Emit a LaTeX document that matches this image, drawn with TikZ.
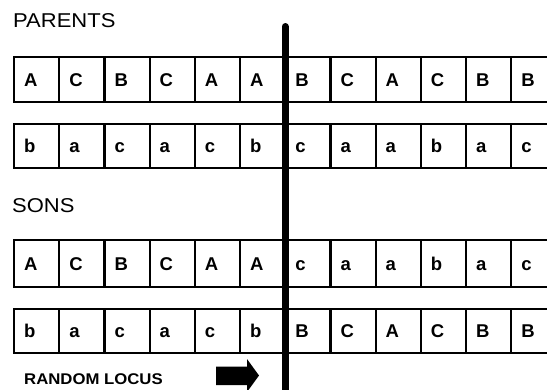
\documentclass[tikz,border=0pt]{standalone}
\usepackage{fontspec}
\usepackage{graphicx}
\setmainfont{Liberation Sans}
\begin{document}
\begin{tikzpicture}[x=1pt,y=-1pt,
  cell/.style={draw=black, line width=2.2pt, anchor=north west, minimum width=45.2pt,
    text width=25.2pt, inner xsep=10pt, inner ysep=0pt, align=left,
    text height=13.5pt, text depth=0pt,
    font=\fontsize{18.5}{19}\selectfont\bfseries},
  heading/.style={anchor=base west, inner sep=0pt, font=\fontsize{20}{21}\selectfont},
  locus/.style={anchor=base west, inner sep=0pt, font=\fontsize{15.5}{16}\selectfont\bfseries}]
\clip (0,0) rectangle (547,389);
\fill[white] (0,0) rectangle (547,389);
% rows
\foreach \t [count=\i from 0] in {A,C,B,C,A,A,B,C,A,C,B,B}
  \node[cell, minimum height=45pt] (ra\i) at (13+45.2*\i,56) {\t};
\foreach \t [count=\i from 0] in {b,a,c,a,c,b,c,a,a,b,a,c}
  \node[cell, minimum height=44pt] (rb\i) at (13+45.2*\i,123) {\t};
\foreach \t [count=\i from 0] in {A,C,B,C,A,A,c,a,a,b,a,c}
  \node[cell, minimum height=47pt] (rc\i) at (13+45.2*\i,239) {\t};
\foreach \t [count=\i from 0] in {b,a,c,a,c,b,B,C,A,C,B,B}
  \node[cell, minimum height=44pt] (rd\i) at (13+45.2*\i,308) {\t};
% labels
\node[heading] (parents) at (13,27) {\scalebox{1.1}[1]{PARENTS}};
\node[heading] (sons) at (12,212) {\scalebox{1.1}[1]{SONS}};
\node[locus] (locus) at (24,384) {\scalebox{1.08}[1]{RANDOM LOCUS}};
% crossover line
\coordinate (cuttop) at (285,26.5);
\coordinate (cutbot) at (285,400);
\draw[line width=7pt, line cap=round] (cuttop) -- (cutbot);
% arrow
\fill[black] (216,366.5) -- (247,366.5) -- (247,359) -- (259,375.5) -- (247,392) -- (247,385) -- (216,385) -- cycle;
\end{tikzpicture}
\end{document}
